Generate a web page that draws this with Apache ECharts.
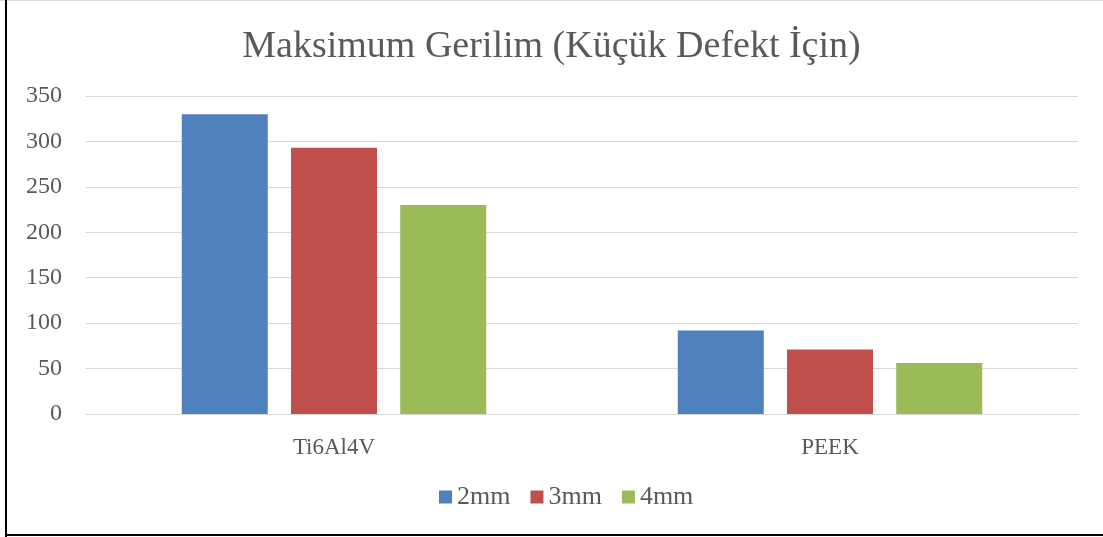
<!DOCTYPE html>
<html>
<head>
<meta charset="utf-8">
<script src="https://cdn.jsdelivr.net/npm/echarts@6/dist/echarts.min.js"></script>
<style>
  html, body { margin: 0; padding: 0; background: #fff; }
  #chart { width: 1103px; height: 537px; }
</style>
</head>
<body>
<div id="chart"></div>
<script>
// Maximum stress for the small defect case, per material and defect size
const titleText = 'Maksimum Gerilim (Küçük Defekt İçin)';
const materials = ['Ti6Al4V', 'PEEK'];
const sizes = ['2mm', '3mm', '4mm'];
const stress2mm = [330, 92];
const stress3mm = [293, 71];
const stress4mm = [230, 56];
const colors = ['#4F81BD', '#C0504D', '#9BBB59'];

const textColor = '#595959';
const fontFamily = '"Liberation Serif", "DejaVu Serif", serif';

const chart = echarts.init(document.getElementById('chart'), null, { renderer: 'canvas' });

const seriesValues = [stress2mm, stress3mm, stress4mm];

chart.setOption({
  animation: false,
  backgroundColor: '#fff',
  title: {
    text: titleText,
    left: 'center',
    top: 23,
    textStyle: { color: textColor, fontFamily: fontFamily, fontWeight: 'normal', fontSize: 38 }
  },
  legend: {
    data: sizes,
    bottom: 22,
    left: 434,
    itemWidth: 13,
    itemHeight: 13,
    itemGap: 20,
    icon: 'rect',
    textStyle: { color: textColor, fontFamily: fontFamily, fontSize: 26 }
  },
  grid: { left: 86, right: 25, top: 96, bottom: 123 },
  xAxis: {
    type: 'category',
    data: materials,
    axisLine: { lineStyle: { color: '#D9D9D9', width: 1 } },
    axisTick: { show: false },
    axisLabel: { color: textColor, fontFamily: fontFamily, fontSize: 23, margin: 22 }
  },
  yAxis: {
    type: 'value',
    min: 0,
    max: 350,
    interval: 50,
    axisLine: { show: false },
    axisTick: { show: false },
    splitLine: { lineStyle: { color: '#D9D9D9', width: 1 } },
    axisLabel: { color: textColor, fontFamily: fontFamily, fontSize: 24, margin: 24 }
  },
  series: sizes.map((name, i) => ({
    name: name,
    type: 'bar',
    data: seriesValues[i],
    barWidth: 86,
    barGap: '27%',
    itemStyle: { color: colors[i] }
  })),
  graphic: [
    { type: 'rect', shape: { x: 0, y: 0, width: 1103, height: 1 }, style: { fill: '#D9D9D9' } },
    { type: 'rect', shape: { x: 5, y: 0, width: 2, height: 537 }, style: { fill: '#000' } },
    { type: 'rect', shape: { x: 5, y: 534, width: 1098, height: 2 }, style: { fill: '#000' } }
  ]
});
</script>
</body>
</html>
